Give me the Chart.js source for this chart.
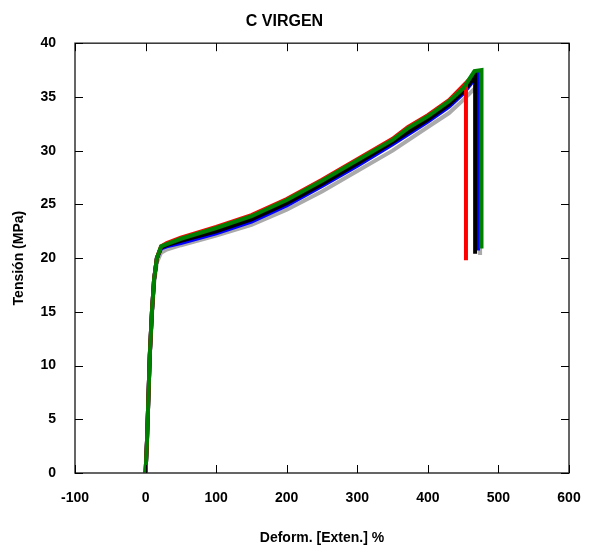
<!DOCTYPE html>
<html>
<head>
<meta charset="utf-8">
<script src="https://cdn.jsdelivr.net/npm/chart.js@4.4.0/dist/chart.umd.min.js"></script>
<style>
  html, body { margin: 0; padding: 0; background: #fff; }
  #wrap { width: 612px; height: 553px; }
</style>
</head>
<body>
<div id="wrap"><canvas id="stress-chart" width="612" height="553"></canvas></div>
<script>
// ensayo de traccion - C VIRGEN
var xTicks = [-100, 0, 100, 200, 300, 400, 500, 600];
var yTicks = [0, 5, 10, 15, 20, 25, 30, 35, 40];

var strainGray  = [0, 2, 4, 6, 9, 12, 16, 22, 30, 50, 100, 150, 200, 250, 300, 350, 400, 430, 450, 465, 474, 474];
var stressGray  = [0, 2.8, 6.8, 10.8, 14.6, 17.6, 19.6, 20.5, 20.8, 21.2, 22.1, 23.1, 24.5, 26.2, 28.1, 30.0, 32.2, 33.5, 34.7, 35.7, 36.2, 20.3];

var strainBlue  = [0, 2, 4, 6, 9, 12, 16, 22, 30, 50, 100, 150, 200, 250, 300, 350, 400, 430, 450, 463, 468, 471, 471];
var stressBlue  = [0, 3, 7, 11, 15, 18, 20, 20.9, 21.1, 21.4, 22.3, 23.4, 24.9, 26.7, 28.6, 30.6, 32.7, 34.1, 35.3, 36.4, 37.1, 37.2, 20.7];

var strainBlack = [0, 2, 4, 6, 9, 12, 16, 22, 30, 50, 100, 150, 200, 250, 300, 350, 400, 430, 450, 467, 467];
var stressBlack = [0, 3, 7, 11, 15, 18, 20, 21, 21.2, 21.6, 22.5, 23.6, 25.1, 26.9, 28.8, 30.8, 32.9, 34.3, 35.5, 36.9, 20.4];

var strainRed   = [0, 2, 4, 6, 9, 12, 16, 22, 30, 50, 100, 150, 200, 250, 300, 350, 360, 372, 400, 430, 454, 454];
var stressRed   = [0, 3, 7, 11, 15, 18, 20, 21.1, 21.4, 21.9, 22.9, 24.0, 25.5, 27.3, 29.2, 31.1, 31.6, 32.2, 33.3, 34.7, 36.3, 19.8];

var strainGreen = [0, 2, 4, 6, 9, 12, 16, 22, 30, 50, 100, 150, 200, 250, 300, 350, 360, 372, 400, 430, 450, 460, 466, 476, 476];
var stressGreen = [0, 3, 7, 11, 15, 18, 20, 21.1, 21.3, 21.8, 22.8, 23.9, 25.4, 27.2, 29.1, 31.0, 31.5, 32.1, 33.2, 34.6, 35.8, 36.8, 37.4, 37.5, 20.9];

function toPoints(xs, ys) {
    var pts = [];
    for (var i = 0; i < xs.length; i++) {
        pts.push({x: xs[i], y: ys[i]});
    }
    return pts;
}

function makeSet(label, xs, ys, col) {
    return {
        label: label,
        data: toPoints(xs, ys),
        borderColor: col,
        backgroundColor: col,
        borderWidth: 4,
        pointRadius: 0,
        showLine: true,
        fill: false,
        tension: 0
    };
}

function eachVal(arr, fn) {
    for (var i = 0; i < arr.length; i++) fn(arr[i]);
}

// marco y marcas hacia adentro
var frameTicks = {
    id: 'frameTicks',
    afterDatasetsDraw: function (chart) {
        var c = chart.ctx;
        var a = chart.chartArea;
        var sx = chart.scales.x;
        var sy = chart.scales.y;
        var len = 8;
        c.save();
        c.strokeStyle = '#333';
        c.lineWidth = 1.5;
        c.strokeRect(a.left, a.top, a.right - a.left, a.bottom - a.top);
        c.lineWidth = 1;
        c.strokeStyle = '#000';
        c.beginPath();
        eachVal(xTicks, function (v) {
            var px = Math.round(sx.getPixelForValue(v)) + 0.5;
            c.moveTo(px, a.bottom);
            c.lineTo(px, a.bottom - len);
            c.moveTo(px, a.top);
            c.lineTo(px, a.top + len);
        });
        eachVal(yTicks, function (v) {
            var py = Math.round(sy.getPixelForValue(v)) + 0.5;
            c.moveTo(a.left, py);
            c.lineTo(a.left + len, py);
            c.moveTo(a.right, py);
            c.lineTo(a.right - len, py);
        });
        c.stroke();
        c.restore();
    }
};

var boldFont = {family: "'Liberation Sans', Arial, sans-serif", size: 14, weight: 'bold'};

var configStress = {
    type: 'scatter',
    data: {
        // Chart.js pinta el primer dataset encima
        datasets: [
            makeSet('Verde', strainGreen, stressGreen, '#008000'),
            makeSet('Rojo', strainRed, stressRed, '#ff0000'),
            makeSet('Negro', strainBlack, stressBlack, '#000000'),
            makeSet('Azul', strainBlue, stressBlue, '#0000ff'),
            makeSet('Gris', strainGray, stressGray, '#aaaaaa')
        ]
    },
    options: {
        responsive: false,
        animation: false,
        layout: {
            padding: {left: 0, right: 43, top: 0, bottom: 0}
        },
        plugins: {
            legend: {display: false},
            tooltip: {enabled: false},
            title: {
                display: true,
                text: 'C VIRGEN',
                color: '#000',
                font: {family: "'Liberation Sans', Arial, sans-serif", size: 16, weight: 'bold'},
                padding: {top: 12, bottom: 12}
            }
        },
        scales: {
            x: {
                type: 'linear',
                min: -100,
                max: 600,
                afterFit: function (scale) { scale.height = 80; },
                afterBuildTicks: function (scale) {
                    scale.ticks = xTicks.map(function (v) { return {value: v}; });
                },
                grid: {display: false},
                border: {display: false},
                ticks: {color: '#000', font: boldFont, padding: 9, maxRotation: 0, autoSkip: false},
                title: {
                    display: true,
                    text: 'Deform. [Exten.] %',
                    color: '#000',
                    font: {family: "'Liberation Sans', Arial, sans-serif", size: 14, weight: 'bold'},
                    padding: {top: 4, bottom: 6}
                }
            },
            y: {
                type: 'linear',
                min: 0,
                max: 40,
                afterFit: function (scale) { scale.width = 75; },
                afterBuildTicks: function (scale) {
                    scale.ticks = yTicks.map(function (v) { return {value: v}; });
                },
                grid: {display: false},
                border: {display: false},
                ticks: {color: '#000', font: boldFont, padding: 11, autoSkip: false},
                title: {
                    display: true,
                    text: 'Tensión (MPa)',
                    color: '#000',
                    font: {family: "'Liberation Sans', Arial, sans-serif", size: 14, weight: 'bold'},
                    padding: {top: 11, bottom: 4}
                }
            }
        }
    },
    plugins: [frameTicks]
};

var myChartStress = document.getElementById("stress-chart").getContext("2d");
var myStress = new Chart(myChartStress, configStress);
</script>
</body>
</html>
